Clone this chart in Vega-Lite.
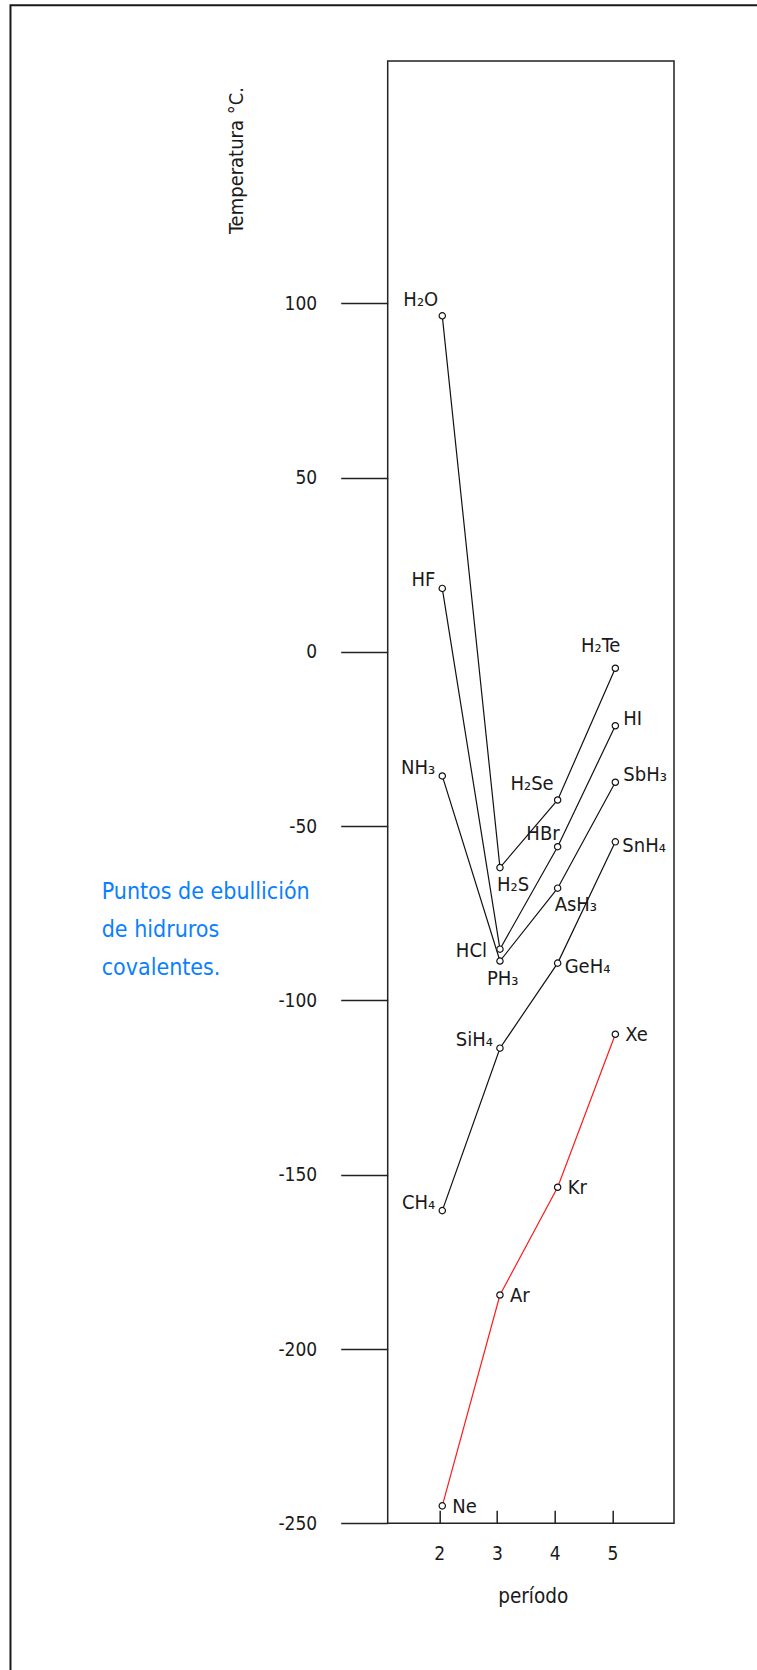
{
  "$schema": "https://vega.github.io/schema/vega-lite/v6.json",
  "width": 286.3,
  "height": 1462.3,
  "autosize": {"type": "none"},
  "padding": {"left": 387.7, "top": 61, "right": 83, "bottom": 146.7},
  "background": "white",
  "config": {
    "view": {"stroke": "#222", "strokeWidth": 1.5},
    "font": "'Liberation Sans Narrow', 'DejaVu Sans Condensed', 'Liberation Sans', sans-serif",
    "text": {"font": "'Liberation Sans Narrow', 'DejaVu Sans Condensed', 'Liberation Sans', sans-serif", "fontSize": 20, "color": "#1a1a1a", "baseline": "middle"}
  },
  "data": {
    "values": [
      {"group": "14", "period": 2, "temp": -160.3, "name": "CH₄"},
      {"group": "14", "period": 3, "temp": -113.7, "name": "SiH₄"},
      {"group": "14", "period": 4, "temp": -89.3, "name": "GeH₄"},
      {"group": "14", "period": 5, "temp": -54.5, "name": "SnH₄"},
      {"group": "15", "period": 2, "temp": -35.6, "name": "NH₃"},
      {"group": "15", "period": 3, "temp": -88.7, "name": "PH₃"},
      {"group": "15", "period": 4, "temp": -67.8, "name": "AsH₃"},
      {"group": "15", "period": 5, "temp": -37.4, "name": "SbH₃"},
      {"group": "16", "period": 2, "temp": 96.4, "name": "H₂O"},
      {"group": "16", "period": 3, "temp": -61.9, "name": "H₂S"},
      {"group": "16", "period": 4, "temp": -42.5, "name": "H₂Se"},
      {"group": "16", "period": 5, "temp": -4.7, "name": "H₂Te"},
      {"group": "17", "period": 2, "temp": 18.2, "name": "HF"},
      {"group": "17", "period": 3, "temp": -85.3, "name": "HCl"},
      {"group": "17", "period": 4, "temp": -55.9, "name": "HBr"},
      {"group": "17", "period": 5, "temp": -21.2, "name": "HI"},
      {"group": "18", "period": 2, "temp": -245, "name": "Ne"},
      {"group": "18", "period": 3, "temp": -184.5, "name": "Ar"},
      {"group": "18", "period": 4, "temp": -153.6, "name": "Kr"},
      {"group": "18", "period": 5, "temp": -109.7, "name": "Xe"}
    ]
  },
  "layer": [
    {
      "mark": {"type": "line", "strokeWidth": 1.2, "xOffset": 3},
      "encoding": {
        "x": {
          "field": "period", "type": "quantitative",
          "scale": {"domain": [1.106, 6.069], "nice": false, "zero": false},
          "axis": {
            "values": [2, 3, 4, 5], "grid": false, "domain": false,
            "labelExpr": "'' + datum.value",
            "tickSize": -13, "tickColor": "#222", "tickWidth": 1.5,
            "labelPadding": 43, "labelBaseline": "middle", "labelFontSize": 19, "labelColor": "#1a1a1a",
            "title": "período", "titleFontSize": 20.5, "titleFontWeight": "normal", "titleColor": "#1a1a1a",
            "titleX": 145, "titleY": 73, "titleBaseline": "middle", "titleAlign": "center"
          }
        },
        "y": {
          "field": "temp", "type": "quantitative",
          "scale": {"domain": [-250, 169.5], "nice": false, "zero": false},
          "axis": {
            "values": [-250, -200, -150, -100, -50, 0, 50, 100], "grid": false, "domain": false,
            "labelExpr": "'' + datum.value",
            "tickSize": 47, "tickColor": "#222", "tickWidth": 1.5,
            "labelPadding": 24, "labelFontSize": 19, "labelColor": "#1a1a1a",
            "title": "Temperatura °C.", "titleFontSize": 20, "titleFontWeight": "normal", "titleColor": "#1a1a1a",
            "titleAngle": 270, "titleX": -151, "titleY": 99, "titleAlign": "center", "titleBaseline": "middle"
          }
        },
        "color": {
          "field": "group", "type": "nominal",
          "scale": {"domain": ["14", "15", "16", "17", "18"], "range": ["#111111", "#111111", "#111111", "#111111", "#ff1a1a"]},
          "legend": null
        }
      }
    },
    {
      "mark": {"type": "point", "shape": "circle", "filled": true, "fill": "white", "stroke": "#111", "strokeWidth": 1.2, "size": 40, "opacity": 1, "xOffset": 3},
      "encoding": {
        "x": {"field": "period", "type": "quantitative"},
        "y": {"field": "temp", "type": "quantitative"}
      }
    },
    {
      "transform": [{"filter": {"field": "name", "oneOf": ["Xe", "Kr", "Ar", "Ne"]}}],
      "mark": {"type": "text", "align": "left", "dx": 10, "dy": 1, "xOffset": 3},
      "encoding": {"x": {"field": "period", "type": "quantitative"}, "y": {"field": "temp", "type": "quantitative"}, "text": {"field": "name"}}
    },
    {
      "transform": [{"filter": {"field": "name", "oneOf": ["GeH₄", "SnH₄"]}}],
      "mark": {"type": "text", "align": "left", "dx": 7, "dy": 4, "xOffset": 3},
      "encoding": {"x": {"field": "period", "type": "quantitative"}, "y": {"field": "temp", "type": "quantitative"}, "text": {"field": "name"}}
    },
    {
      "transform": [{"filter": {"field": "name", "oneOf": ["HI", "SbH₃"]}}],
      "mark": {"type": "text", "align": "left", "dx": 8, "dy": -7, "xOffset": 3},
      "encoding": {"x": {"field": "period", "type": "quantitative"}, "y": {"field": "temp", "type": "quantitative"}, "text": {"field": "name"}}
    },
    {
      "transform": [{"filter": {"field": "name", "oneOf": ["HF", "NH₃", "CH₄", "SiH₄"]}}],
      "mark": {"type": "text", "align": "right", "dx": -7, "dy": -8, "xOffset": 3},
      "encoding": {"x": {"field": "period", "type": "quantitative"}, "y": {"field": "temp", "type": "quantitative"}, "text": {"field": "name"}}
    },
    {
      "transform": [{"filter": {"field": "name", "oneOf": ["H₂O", "H₂Se"]}}],
      "mark": {"type": "text", "align": "right", "dx": -4, "dy": -16, "xOffset": 3},
      "encoding": {"x": {"field": "period", "type": "quantitative"}, "y": {"field": "temp", "type": "quantitative"}, "text": {"field": "name"}}
    },
    {
      "transform": [{"filter": {"field": "name", "oneOf": ["H₂Te"]}}],
      "mark": {"type": "text", "align": "right", "dx": 5, "dy": -22, "xOffset": 3},
      "encoding": {"x": {"field": "period", "type": "quantitative"}, "y": {"field": "temp", "type": "quantitative"}, "text": {"field": "name"}}
    },
    {
      "transform": [{"filter": {"field": "name", "oneOf": ["HBr"]}}],
      "mark": {"type": "text", "align": "right", "dx": 2, "dy": -13, "xOffset": 3},
      "encoding": {"x": {"field": "period", "type": "quantitative"}, "y": {"field": "temp", "type": "quantitative"}, "text": {"field": "name"}}
    },
    {
      "transform": [{"filter": {"field": "name", "oneOf": ["HCl"]}}],
      "mark": {"type": "text", "align": "right", "dx": -13, "dy": 2, "xOffset": 3},
      "encoding": {"x": {"field": "period", "type": "quantitative"}, "y": {"field": "temp", "type": "quantitative"}, "text": {"field": "name"}}
    },
    {
      "transform": [{"filter": {"field": "name", "oneOf": ["H₂S", "AsH₃"]}}],
      "mark": {"type": "text", "align": "left", "dx": -3, "dy": 17, "xOffset": 3},
      "encoding": {"x": {"field": "period", "type": "quantitative"}, "y": {"field": "temp", "type": "quantitative"}, "text": {"field": "name"}}
    },
    {
      "transform": [{"filter": {"field": "name", "oneOf": ["PH₃"]}}],
      "mark": {"type": "text", "align": "left", "dx": -13, "dy": 18, "xOffset": 3},
      "encoding": {"x": {"field": "period", "type": "quantitative"}, "y": {"field": "temp", "type": "quantitative"}, "text": {"field": "name"}}
    },
    {
      "data": {"values": [{"note": "Puntos de ebullición de hidruros covalentes."}]},
      "mark": {"type": "text", "align": "left", "baseline": "middle", "fontSize": 23, "lineHeight": 38, "color": "#0a80ff"},
      "encoding": {
        "x": {"datum": -3.852},
        "y": {"datum": -68.8},
        "text": {"value": ["Puntos de ebullición", "de hidruros", "covalentes."]}
      }
    },
    {
      "data": {"values": [{"frame": "outer"}]},
      "mark": {"type": "rect", "fill": "white", "fillOpacity": 0, "stroke": "#1a1a1a", "strokeWidth": 2, "clip": false},
      "encoding": {
        "x": {"datum": -5.433},
        "x2": {"datum": 7.8},
        "y": {"datum": 185.49},
        "y2": {"datum": -300}
      }
    }
  ]
}
